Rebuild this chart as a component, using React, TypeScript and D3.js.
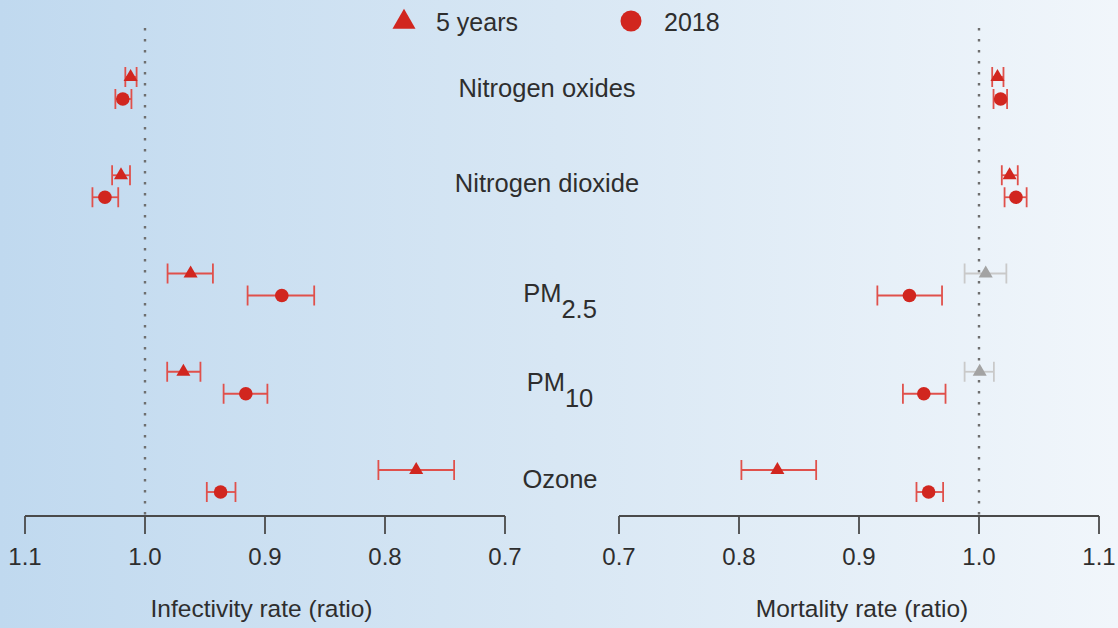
import React from "react";
import * as d3 from "d3";

// ---------- data ----------
const labelMain = ["Nitrogen oxides", "Nitrogen dioxide", "PM", "PM", "Ozone"];
const labelSub = ["", "", "2.5", "10", ""];

const leftTicks = [1.1, 1.0, 0.9, 0.8, 0.7];
const rightTicks = [0.7, 0.8, 0.9, 1.0, 1.1];

// Infectivity rate (ratio)
const infect5 = [1.012, 1.02, 0.962, 0.968, 0.774];
const infect5Lo = [1.007, 1.0125, 0.9434, 0.9538, 0.7424];
const infect5Hi = [1.0164, 1.0274, 0.9812, 0.9815, 0.8055];
const infect2018 = [1.0185, 1.0334, 0.886, 0.916, 0.937];
const infect2018Lo = [1.0113, 1.0223, 0.859, 0.898, 0.9246];
const infect2018Hi = [1.0247, 1.0438, 0.9145, 0.9345, 0.9485];

// Mortality rate (ratio)
const mort5 = [1.0154, 1.0255, 1.0056, 1.0006, 0.832];
const mort5Lo = [1.011, 1.019, 0.988, 0.988, 0.802];
const mort5Hi = [1.0204, 1.0323, 1.0228, 1.0124, 0.8643];
const mort5Significant = [true, true, false, false, true];
const mort2018 = [1.018, 1.0308, 0.942, 0.954, 0.958];
const mort2018Lo = [1.0121, 1.0213, 0.9153, 0.9366, 0.9479];
const mort2018Hi = [1.0234, 1.0397, 0.9692, 0.9721, 0.9701];

const legendLabels = ["5 years", "2018"];

// ---------- layout / style ----------
const W = 1118;
const H = 628;
const RED = "#d1261f";
const RED_BAR = "#e0504b";
const GREY = "#a3a3a3";
const GREY_BAR = "#c9c9c9";
const TEXT = "#2e2e2e";
const AXIS = "#4a4a4a";
const FONT = "'Liberation Sans', Arial, Helvetica, sans-serif";
const LABEL_X = [547, 547, 560, 560, 560];
const LABEL_DY = [0, -3, 8, -1, -2];

const xLeft = d3.scaleLinear().domain([1.1, 0.7]).range([25, 505]);
const xRight = d3.scaleLinear().domain([0.7, 1.1]).range([619, 1099]);
const yRow = d3.scaleLinear().domain([0, labelMain.length - 1]).range([88, 481]);
const OFF = 11;
const AXIS_Y = 516;

const triPath = d3.symbol().type(d3.symbolTriangle).size(85)()!;
const triLegend = d3.symbol().type(d3.symbolTriangle).size(230)()!;

type Pt = { v: number; lo: number; hi: number; y: number; shape: "tri" | "circ"; grey?: boolean };

function Marker({ p, x }: { p: Pt; x: d3.ScaleLinear<number, number> }) {
  const barC = p.grey ? GREY_BAR : RED_BAR;
  const c = p.grey ? GREY : RED;
  const x1 = x(p.lo);
  const x2 = x(p.hi);
  const cx = x(p.v);
  return (
    <g>
      <line x1={x1} x2={x2} y1={p.y} y2={p.y} stroke={barC} strokeWidth={1.8} />
      <line x1={x1} x2={x1} y1={p.y - 10} y2={p.y + 10} stroke={barC} strokeWidth={1.8} />
      <line x1={x2} x2={x2} y1={p.y - 10} y2={p.y + 10} stroke={barC} strokeWidth={1.8} />
      {p.shape === "tri" ? (
        <path d={triPath} transform={`translate(${cx},${p.y})`} fill={c} />
      ) : (
        <circle cx={cx} cy={p.y} r={6.8} fill={c} />
      )}
    </g>
  );
}

function Axis({ x, ticks, title, titleDx }: { x: d3.ScaleLinear<number, number>; ticks: number[]; title: string; titleDx: number }) {
  const [a, b] = x.range();
  const fmt = d3.format(".1f");
  return (
    <g>
      <line x1={a} x2={b} y1={AXIS_Y} y2={AXIS_Y} stroke={AXIS} strokeWidth={1.8} />
      {ticks.map((t) => (
        <g key={t}>
          <line x1={x(t)} x2={x(t)} y1={AXIS_Y} y2={AXIS_Y + 18} stroke={AXIS} strokeWidth={1.8} />
          <text x={x(t)} y={565} textAnchor="middle" fontSize={24} fill={TEXT} fontFamily={FONT}>
            {fmt(t)}
          </text>
        </g>
      ))}
      <text x={(a + b) / 2 + titleDx} y={617} textAnchor="middle" fontSize={24.5} fill={TEXT} fontFamily={FONT}>
        {title}
      </text>
    </g>
  );
}

export default function App() {
  const leftPts: Pt[] = [];
  const rightPts: Pt[] = [];
  labelMain.forEach((_, i) => {
    const yc = yRow(i);
    leftPts.push({ v: infect5[i], lo: infect5Lo[i], hi: infect5Hi[i], y: yc - OFF, shape: "tri" });
    leftPts.push({ v: infect2018[i], lo: infect2018Lo[i], hi: infect2018Hi[i], y: yc + OFF, shape: "circ" });
    rightPts.push({ v: mort5[i], lo: mort5Lo[i], hi: mort5Hi[i], y: yc - OFF, shape: "tri", grey: !mort5Significant[i] });
    rightPts.push({ v: mort2018[i], lo: mort2018Lo[i], hi: mort2018Hi[i], y: yc + OFF, shape: "circ" });
  });

  return (
    <svg
      width={W}
      height={H}
      style={{ position: "absolute", left: 0, top: 0, display: "block" }}
      fontFamily={FONT}
    >
      <defs>
        <linearGradient id="bg" x1="0" x2="1" y1="0" y2="0">
          <stop offset="0%" stopColor="#c0d9ef" />
          <stop offset="50%" stopColor="#d8e7f4" />
          <stop offset="100%" stopColor="#f1f6fb" />
        </linearGradient>
      </defs>
      <rect x={0} y={0} width={W} height={H} fill="url(#bg)" />

      {/* reference lines at ratio 1.0 */}
      <line x1={xLeft(1)} x2={xLeft(1)} y1={28} y2={AXIS_Y} stroke="#6e6e6e" strokeWidth={2.4} strokeDasharray="2.4 8.6" />
      <line x1={xRight(1)} x2={xRight(1)} y1={28} y2={AXIS_Y} stroke="#6e6e6e" strokeWidth={2.4} strokeDasharray="2.4 8.6" />

      {/* legend */}
      <path d={triLegend} transform="translate(404,22)" fill={RED} />
      <text x={436} y={30.5} fontSize={25} fill={TEXT}>{legendLabels[0]}</text>
      <circle cx={631} cy={21} r={10.5} fill={RED} />
      <text x={664} y={30.5} fontSize={25} fill={TEXT}>{legendLabels[1]}</text>

      {/* category labels */}
      {labelMain.map((m, i) => {
        const yc = yRow(i) + LABEL_DY[i];
        const base = yc + 0.358 * 25.5;
        return (
          <text key={m + i} x={LABEL_X[i]} y={base} textAnchor="middle" fontSize={25.5} fill={TEXT}>
            {m}
            {labelSub[i] ? (
              <tspan dy={16} fontSize={25.5}>{labelSub[i]}</tspan>
            ) : null}
          </text>
        );
      })}

      {leftPts.map((p, i) => (
        <Marker key={"l" + i} p={p} x={xLeft} />
      ))}
      {rightPts.map((p, i) => (
        <Marker key={"r" + i} p={p} x={xRight} />
      ))}

      <Axis x={xLeft} ticks={leftTicks} title="Infectivity rate (ratio)" titleDx={-3.5} />
      <Axis x={xRight} ticks={rightTicks} title="Mortality rate (ratio)" titleDx={3} />
    </svg>
  );
}
